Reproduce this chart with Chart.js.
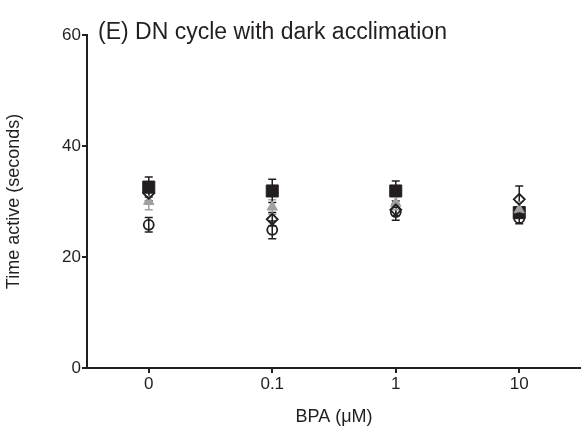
<!DOCTYPE html>
<html>
<head>
<meta charset="utf-8">
<script src="https://cdn.jsdelivr.net/npm/chart.js@4.4.1/dist/chart.umd.min.js"></script>
<style>
  body { margin: 0; background: #fff; }
</style>
</head>
<body>
<canvas id="chart" width="581" height="437"></canvas>
<script>
const doses = ["0", "0.1", "1", "10"];
const yTicks = [0, 20, 40, 60];
const panelTitle = "(E) DN cycle with dark acclimation";

// mean and SEM per group
const squareMean = [32.6, 31.9, 31.9, 28.0];
const squareErr = [1.8, 2.1, 1.8, 1.0];
const circleMean = [25.8, 24.9, 28.1, 27.0];
const circleErr = [1.3, 1.6, 1.5, 1.0];
const diamondMean = [31.5, 26.8, 28.5, 30.4];
const diamondErr = [1.4, 1.2, 1.0, 2.4];
const triangleMean = [30.0, 29.0, 29.7, 28.5];
const triangleErr = [1.5, 1.3, 1.2, 1.4];

const ink = "#231f20";
const grey = "#a0a0a0";

const errorBars = {
  id: "errorBars",
  beforeDatasetsDraw(chart) {
    const ctx = chart.ctx;
    const xs = chart.scales.x;
    const ys = chart.scales.y;
    chart.data.datasets.forEach((ds) => {
      ctx.save();
      ctx.strokeStyle = ds.errColor;
      ctx.lineWidth = 1.5;
      ds.data.forEach((v, j) => {
        const px = xs.getPixelForValue(j);
        const top = ys.getPixelForValue(v + ds.errors[j]);
        const bot = ys.getPixelForValue(v - ds.errors[j]);
        ctx.beginPath();
        ctx.moveTo(px, top);
        ctx.lineTo(px, bot);
        ctx.moveTo(px - 4, top);
        ctx.lineTo(px + 4, top);
        ctx.moveTo(px - 4, bot);
        ctx.lineTo(px + 4, bot);
        ctx.stroke();
      });
      ctx.restore();
    });
  },
};

const titlePlugin = {
  id: "panelTitle",
  afterDraw(chart) {
    const ctx = chart.ctx;
    ctx.save();
    ctx.fillStyle = ink;
    ctx.font = "23px 'Liberation Sans', Arial, sans-serif";
    ctx.textBaseline = "middle";
    ctx.fillText(panelTitle, chart.chartArea.left + 11, chart.chartArea.top - 2);
    ctx.restore();
  },
};

const tickFont = { family: "'Liberation Sans', Arial, sans-serif", size: 17 };
const titleFont = { family: "'Liberation Sans', Arial, sans-serif", size: 18 };

new Chart(document.getElementById("chart"), {
  type: "line",
  data: {
    labels: doses,
    datasets: [
      {
        label: "circle",
        data: circleMean,
        errors: circleErr,
        errColor: ink,
        pointStyle: "circle",
        pointRadius: 5,
        borderWidth: 1.8,
        borderColor: ink,
        backgroundColor: "rgba(0,0,0,0)",
      },
      {
        label: "diamond",
        data: diamondMean,
        errors: diamondErr,
        errColor: ink,
        pointStyle: "rectRot",
        pointRadius: 5.5,
        borderWidth: 1.8,
        borderColor: ink,
        backgroundColor: "rgba(0,0,0,0)",
      },
      {
        label: "triangle",
        data: triangleMean,
        errors: triangleErr,
        errColor: grey,
        pointStyle: "triangle",
        pointRadius: 6,
        borderWidth: 1,
        borderColor: grey,
        backgroundColor: grey,
      },
      {
        label: "square",
        data: squareMean,
        errors: squareErr,
        errColor: ink,
        pointStyle: "rect",
        pointRadius: 8.5,
        borderWidth: 1,
        borderColor: ink,
        backgroundColor: ink,
      },
    ],
  },
  options: {
    responsive: false,
    animation: false,
    showLine: false,
    layout: { autoPadding: false, padding: { top: 35, right: 0, left: 0, bottom: 0 } },
    plugins: {
      legend: { display: false },
      tooltip: { enabled: false },
    },
    scales: {
      x: {
        offset: true,
        afterFit: (s) => {
          s.height = 69;
          s.paddingLeft = 0;
          s.paddingRight = 0;
        },
        grid: { display: true, drawOnChartArea: false, drawTicks: true, tickLength: 5, color: ink, lineWidth: 2, offset: false },
        border: { color: ink, width: 2 },
        ticks: { color: ink, font: tickFont, padding: 1 },
        title: { display: true, text: "BPA (μM)", color: ink, font: titleFont, padding: { top: 0, bottom: 9 } },
      },
      y: {
        min: 0,
        max: 60,
        afterFit: (s) => { s.width = 87; },
        afterBuildTicks: (s) => { s.ticks = yTicks.map((v) => ({ value: v })); },
        grid: { display: true, drawOnChartArea: false, drawTicks: true, tickLength: 5, color: ink, lineWidth: 2 },
        border: { color: ink, width: 2 },
        ticks: { color: ink, font: tickFont, padding: 1 },
        title: { display: true, text: "Time active (seconds)", color: ink, font: titleFont, padding: { top: 3, bottom: 0 } },
      },
    },
  },
  plugins: [errorBars, titlePlugin],
});
</script>
</body>
</html>
